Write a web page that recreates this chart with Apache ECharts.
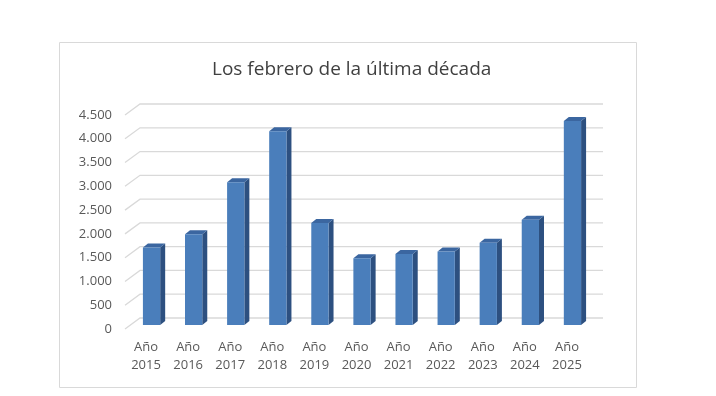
<!DOCTYPE html>
<html>
<head>
<meta charset="utf-8">
<style>
  html, body { margin: 0; padding: 0; background: #fff; }
  #chart { width: 716px; height: 396px; }
</style>
<script src="https://cdn.jsdelivr.net/npm/echarts@6/dist/echarts.min.js"></script>
</head>
<body>
<div id="chart"></div>
<script>
var years = ['Año\n2015', 'Año\n2016', 'Año\n2017', 'Año\n2018', 'Año\n2019', 'Año\n2020',
             'Año\n2021', 'Año\n2022', 'Año\n2023', 'Año\n2024', 'Año\n2025'];
var values = [1630, 1910, 3000, 4075, 2145, 1405, 1495, 1545, 1730, 2215, 4290];
var yTicks = [0, 500, 1000, 1500, 2000, 2500, 3000, 3500, 4000, 4500];

// 3d look: wall depth and bar depth
var WALL_DX = 15, WALL_DY = -11;
var BAR_DX = 5.5, BAR_DY = -4;
var DEPTH_DX = 5, DEPTH_DY = -4;

var chart = echarts.init(document.getElementById('chart'), null, { renderer: 'canvas' });

function thousands(v) {
  return String(v).replace(/\B(?=(\d{3})+(?!\d))/g, '.');
}

chart.setOption({
  animation: false,
  textStyle: { fontFamily: 'Open Sans' },
  title: {
    text: 'Los febrero de la última década',
    left: 207,
    top: 55,
    textStyle: { color: '#404040', fontSize: 19, fontWeight: 'normal', fontFamily: 'Open Sans' }
  },
  graphic: [
    {
      type: 'rect', left: 57, top: 40,
      shape: { width: 577, height: 345 },
      style: { fill: 'none', stroke: '#d9d9d9', lineWidth: 1 }
    },
    {
      type: 'text', x: 57, y: 2,
      style: { text: 'millones', fill: '#595959', font: '14px Open Sans', textVerticalAlign: 'bottom' }
    }
  ],
  grid: { left: 125, right: 128, top: 115, bottom: 67 },
  xAxis: {
    type: 'category',
    data: years,
    axisLine: { show: false },
    axisTick: { show: false },
    axisLabel: { color: '#595959', fontSize: 13, lineHeight: 18, margin: 9, interval: 0 }
  },
  yAxis: {
    type: 'value',
    min: 0,
    max: 4500,
    interval: 500,
    axisLine: { show: false },
    axisTick: { show: false },
    splitLine: { show: false },
    axisLabel: { color: '#595959', fontSize: 13, margin: 13, formatter: thousands }
  },
  series: [
    {
      type: 'custom',
      z: 1,
      silent: true,
      data: yTicks.map(function(t) { return [0, t]; }),
      renderItem: function(params, api) {
        var cs = params.coordSys;
        var y = api.coord([0, api.value(1)])[1];
        return {
          type: 'polyline',
          shape: { points: [[cs.x, y], [cs.x + WALL_DX, y + WALL_DY], [cs.x + cs.width + WALL_DX, y + WALL_DY]] },
          style: { stroke: '#d9d9d9', lineWidth: 1.3, fill: null }
        };
      }
    },
    {
      type: 'custom',
      z: 2,
      data: values.map(function(v, i) { return [i, v]; }),
      renderItem: function(params, api) {
        var base = api.coord([api.value(0), 0]);
        var top = api.coord([api.value(0), api.value(1)]);
        var band = api.size([1, 0])[0];
        var w = band * 0.41;
        var x = base[0] + BAR_DX - w / 2;
        var yt = top[1] + BAR_DY;
        var yb = base[1] + BAR_DY;
        return {
          type: 'group',
          children: [
            {
              type: 'polygon',
              shape: { points: [[x + w, yt], [x + w + DEPTH_DX, yt + DEPTH_DY], [x + w + DEPTH_DX, yb + DEPTH_DY], [x + w, yb]] },
              style: { fill: '#2d5080' }
            },
            {
              type: 'polygon',
              shape: { points: [[x, yt], [x + DEPTH_DX, yt + DEPTH_DY], [x + w + DEPTH_DX, yt + DEPTH_DY], [x + w, yt]] },
              style: { fill: '#3b66a0' }
            },
            {
              type: 'rect',
              shape: { x: x, y: yt, width: w, height: yb - yt },
              style: { fill: '#4a7ebb' }
            }
          ]
        };
      }
    }
  ]
});
</script>
</body>
</html>
